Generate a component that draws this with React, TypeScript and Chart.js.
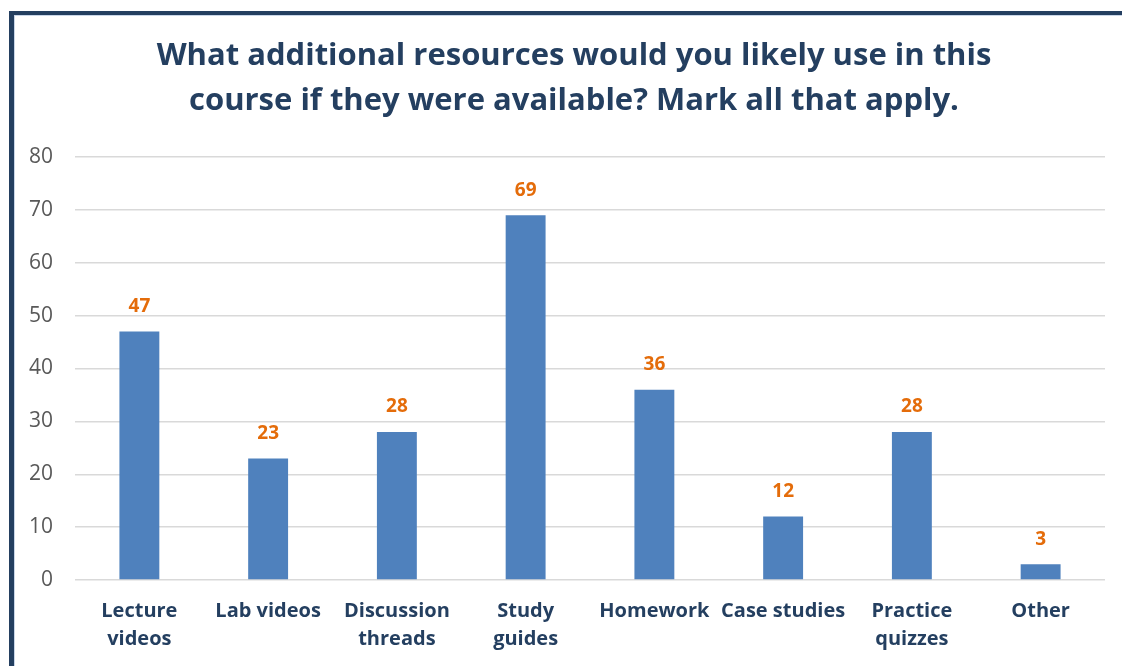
import React, { useEffect, useRef } from "react";
import { Chart, registerables } from "chart.js";

Chart.register(...registerables);

const titleLines = [
  "What additional resources would you likely use in this",
  "course if they were available? Mark all that apply.",
];
const categories: (string | string[])[] = [
  ["Lecture", "videos"],
  "Lab videos",
  ["Discussion", "threads"],
  ["Study", "guides"],
  "Homework",
  "Case studies",
  ["Practice", "quizzes"],
  "Other",
];
const responses = [47, 23, 28, 69, 36, 12, 28, 3];
const yTickMax = 80;
const yTickStep = 10;

const NAVY = "#243F60";
const BAR = "#4F81BD";
const ORANGE = "#E46C0A";

const titlePlugin = {
  id: "customTitle",
  afterDraw(chart: any) {
    const ctx = chart.ctx;
    ctx.save();
    ctx.font = "bold 31px 'Open Sans'";
    ctx.fillStyle = NAVY;
    ctx.textAlign = "center";
    ctx.textBaseline = "middle";
    ctx.fillText(titleLines[0], 574, 56);
    ctx.fillText(titleLines[1], 574, 101);
    ctx.restore();
  },
};

const dataLabelPlugin = {
  id: "dataLabels",
  afterDatasetsDraw(chart: any) {
    const ctx = chart.ctx;
    const meta = chart.getDatasetMeta(0);
    ctx.save();
    ctx.font = "bold 19px 'Open Sans'";
    ctx.fillStyle = ORANGE;
    ctx.textAlign = "center";
    ctx.textBaseline = "middle";
    meta.data.forEach((bar: any, i: number) => {
      ctx.fillText(String(chart.data.datasets[0].data[i]), bar.x, bar.y - 25);
    });
    ctx.restore();
  },
};

export default function App() {
  const canvasRef = useRef<HTMLCanvasElement | null>(null);

  useEffect(() => {
    if (!canvasRef.current) return;
    const chart = new Chart(canvasRef.current, {
      type: "bar",
      data: {
        labels: categories,
        datasets: [
          {
            data: responses,
            backgroundColor: BAR,
            borderWidth: 0,
            categoryPercentage: 1,
            barPercentage: 0.31,
          },
        ],
      },
      options: {
        animation: false,
        responsive: true,
        maintainAspectRatio: false,
        layout: { padding: { left: 26, right: 17, top: 157, bottom: -4 } },
        plugins: {
          legend: { display: false },
          tooltip: { enabled: false },
          title: { display: false },
        },
        scales: {
          x: {
            grid: { display: false, drawTicks: false },
            border: { display: false },
            ticks: {
              color: NAVY,
              font: { family: "'Open Sans'", size: 20, weight: "bold", lineHeight: 1.4 },
              padding: 17,
              maxRotation: 0,
              autoSkip: false,
            },
          },
          y: {
            min: 0,
            max: yTickMax,
            grid: { color: "#D9D9D9", lineWidth: 1.5, drawTicks: false },
            border: { display: false },
            ticks: {
              stepSize: yTickStep,
              color: "#595959",
              font: { family: "'Open Sans'", size: 21 },
              padding: 22,
            },
            afterFit(scale: any) {
              scale.width = 49;
            },
          },
        },
      },
      plugins: [dataLabelPlugin, titlePlugin],
    });
    return () => chart.destroy();
  }, []);

  return (
    <div style={{ position: "absolute", left: 0, top: 0, width: 1122, height: 666, background: "#fff", overflow: "hidden" }}>
      <div
        style={{
          position: "absolute",
          left: 9,
          top: 11,
          right: 0,
          bottom: 0,
          borderLeft: `5px solid ${NAVY}`,
          borderTop: `4px solid ${NAVY}`,
        }}
      >
        <div style={{ position: "absolute", left: 0, top: 0, right: 0, bottom: 0, borderLeft: "1px solid #C9D6E8", borderTop: "1px solid #C9D6E8" }} />
      </div>
      <div style={{ position: "absolute", left: 0, top: 0, width: 1122, height: 666 }}>
        <canvas ref={canvasRef} />
      </div>
    </div>
  );
}
